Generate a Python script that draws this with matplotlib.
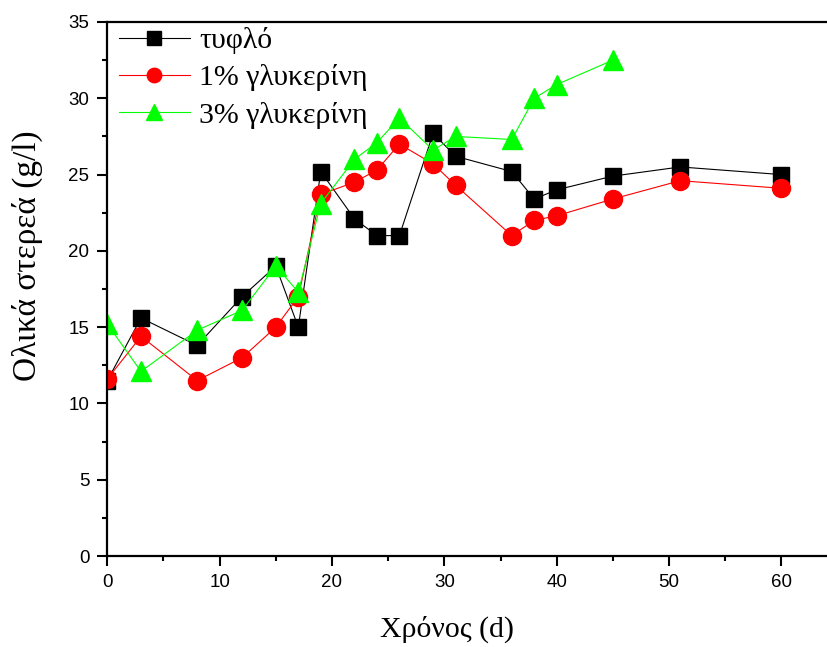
import matplotlib
matplotlib.use('Agg')
import matplotlib.pyplot as plt

# time (d)
days_blank = [0, 3, 8, 12, 15, 17, 19, 22, 24, 26, 29, 31, 36, 38, 40, 45, 51, 60]
blank = [11.5, 15.6, 13.8, 17.0, 19.0, 15.0, 25.2, 22.1, 21.0, 21.0, 27.7, 26.2,
         25.2, 23.4, 24.0, 24.9, 25.5, 25.0]

days_gly1 = [0, 3, 8, 12, 15, 17, 19, 22, 24, 26, 29, 31, 36, 38, 40, 45, 51, 60]
gly1 = [11.6, 14.4, 11.5, 13.0, 15.0, 17.0, 23.7, 24.5, 25.3, 27.0, 25.7, 24.3,
        21.0, 22.0, 22.3, 23.4, 24.6, 24.1]

days_gly3 = [0, 3, 8, 12, 15, 17, 19, 22, 24, 26, 29, 31, 36, 38, 40, 45]
gly3 = [15.2, 12.1, 14.8, 16.1, 19.0, 17.3, 23.1, 26.0, 27.1, 28.7, 26.6, 27.5,
        27.3, 30.0, 30.9, 32.5]

labels = ['τυφλό', '1% γλυκερίνη', '3% γλυκερίνη']

serif = 'Liberation Serif'
sans = 'Liberation Sans'

fig = plt.figure(figsize=(8.28, 6.47), dpi=100)
ax = fig.add_axes([0.1296, 0.1406, 0.8704, 0.8254])

ax.plot(days_blank, blank, '-s', color='black', lw=0.8, ms=12, label=labels[0])
ax.plot(days_gly1, gly1, '-o', color='#ff0000', lw=0.8, ms=13, label=labels[1])
ax.plot(days_gly3, gly3, '-^', color='#00ff00', lw=0.8, ms=15, label=labels[2])

ax.set_xlim(0, 64.15)
ax.set_ylim(0, 35)
ax.set_xticks([0, 10, 20, 30, 40, 50, 60])
ax.set_xticks([5, 15, 25, 35, 45, 55], minor=True)
ax.set_yticks([0, 5, 10, 15, 20, 25, 30, 35])
ax.set_yticks([2.5, 7.5, 12.5, 17.5, 22.5, 27.5, 32.5], minor=True)

ax.spines['right'].set_visible(False)
for s in ['left', 'bottom', 'top']:
    ax.spines[s].set_linewidth(1.6)
ax.tick_params(which='major', direction='out', length=7, width=1.5,
               labelsize=13.5, pad=6, top=False, right=False)
ax.tick_params(which='minor', direction='out', length=3.5, width=1.5,
               top=False, right=False)
for t in ax.get_xticklabels() + ax.get_yticklabels():
    t.set_fontfamily(sans)

ax.set_xlabel('Χρόνος (d)', fontfamily=serif, fontsize=21.5)
ax.set_ylabel('Ολικά στερεά (g/l)', fontfamily=serif, fontsize=24)
ax.xaxis.set_label_coords(0.4716, -0.112)
ax.yaxis.set_label_coords(-0.089, 0.5627)

ax.legend(loc='upper left', bbox_to_anchor=(-0.004, 1.018), frameon=False,
          prop={'family': serif, 'size': 21.5}, handlelength=2.35,
          handletextpad=0.32, labelspacing=0.34, borderpad=0, markerscale=0.8)

fig.savefig('out.png', dpi=100)
